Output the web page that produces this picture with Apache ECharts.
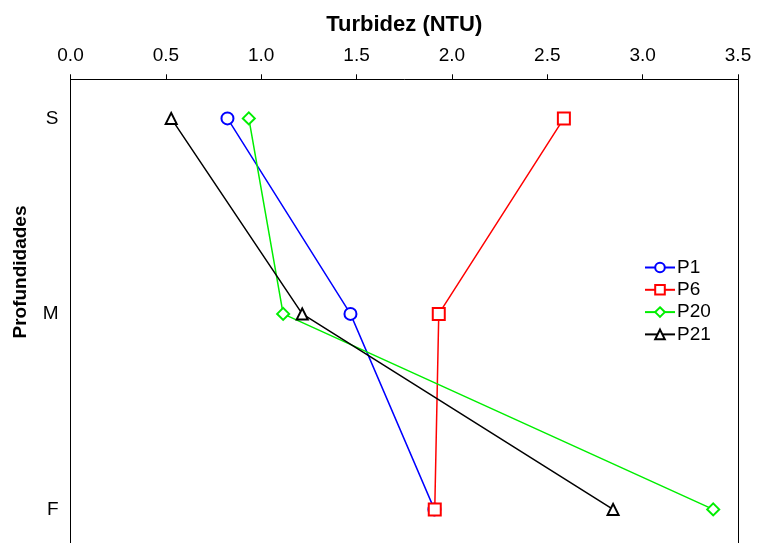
<!DOCTYPE html>
<html>
<head>
<meta charset="utf-8">
<script src="https://cdn.jsdelivr.net/npm/echarts@6/dist/echarts.min.js"></script>
<style>html,body{margin:0;padding:0;background:#fff}#c{width:758px;height:543px}</style>
</head>
<body>
<div id="c"></div>
<script>
var depthLabels = ['S', 'M', 'F'];
var xTicks = [0, 0.5, 1.0, 1.5, 2.0, 2.5, 3.0, 3.5];
var seriesNames = ['P1', 'P6', 'P20', 'P21'];
var p1 = [0.823, 1.468, 1.908];
var p6 = [2.587, 1.931, 1.910];
var p20 = [0.935, 1.115, 3.37];
var p21 = [0.528, 1.215, 2.845];

var values = [p1, p6, p20, p21];
var colors = ['#0000ff', '#ff0000', '#00ee00', '#000000'];
var symbols = ['emptyCircle', 'emptyRect', 'emptyDiamond', 'emptyTriangle'];
var sizes = [12, 12, 12, 11];

function toPoints(arr) {
  return arr.map(function (v, i) { return [v, i]; });
}

var chart = echarts.init(document.getElementById('c'), null, {renderer: 'canvas'});
var series = values.map(function (arr, k) {
  return {
    name: seriesNames[k],
    type: 'line',
    yAxisIndex: 0,
    data: toPoints(arr),
    symbol: symbols[k],
    symbolSize: sizes[k],
    showAllSymbol: true,
    lineStyle: {color: colors[k], width: 1.5},
    itemStyle: {color: colors[k], borderColor: colors[k], borderWidth: k === 3 ? 2.2 : 1.5},
    emphasis: {disabled: true},
    animation: false,
    z: 2 + k
  };
});

chart.setOption({
  backgroundColor: '#fff',
  animation: false,
  grid: {left: 70.5, right: 20, top: 79.3, bottom: 0, show: false},
  xAxis: {
    type: 'value',
    position: 'top',
    min: 0,
    max: 3.5,
    interval: 0.5,
    name: 'Turbidez (NTU)',
    nameLocation: 'middle',
    nameGap: 43,
    nameTextStyle: {fontFamily: 'Liberation Sans', fontWeight: 'bold', fontSize: 22, color: '#000'},
    axisLine: {show: true, onZero: false, lineStyle: {color: '#000', width: 1}},
    axisTick: {show: true, inside: false, length: 5, lineStyle: {color: '#000'}},
    axisLabel: {
      fontFamily: 'Liberation Sans', fontSize: 19, color: '#000', margin: 14,
      formatter: function (v) { return v.toFixed(1); }
    },
    splitLine: {show: false}
  },
  yAxis: [{
    type: 'value',
    inverse: true,
    min: -0.2,
    max: 2.172,
    axisLine: {show: true, onZero: false, lineStyle: {color: '#000', width: 1}},
    axisTick: {show: false},
    axisLabel: {
      customValues: [0, 1, 2],
      fontFamily: 'Liberation Sans', fontSize: 19, color: '#000', margin: 12,
      formatter: function (v) { return depthLabels[Math.round(v)] || ''; }
    },
    splitLine: {show: false}
  }, {
    type: 'value',
    position: 'right',
    inverse: true,
    min: -0.2,
    max: 2.172,
    axisLine: {show: true, onZero: false, lineStyle: {color: '#000', width: 1}},
    axisTick: {show: false},
    axisLabel: {show: false},
    splitLine: {show: false}
  }],
  legend: {
    orient: 'vertical',
    left: 639,
    top: 253,
    itemWidth: 30,
    itemHeight: 12,
    itemGap: 3.3,
    textStyle: {fontFamily: 'Liberation Sans', fontSize: 19, color: '#000', padding: [0, 0, 0, -3]},
    data: seriesNames
  },
  graphic: [{
    type: 'text',
    x: 21,
    y: 272,
    rotation: Math.PI / 2,
    style: {
      text: 'Profundidades',
      fontFamily: 'Liberation Sans', fontWeight: 'bold', fontSize: 19, fill: '#000',
      align: 'center', verticalAlign: 'middle'
    }
  }],
  series: series
});
</script>
</body>
</html>
